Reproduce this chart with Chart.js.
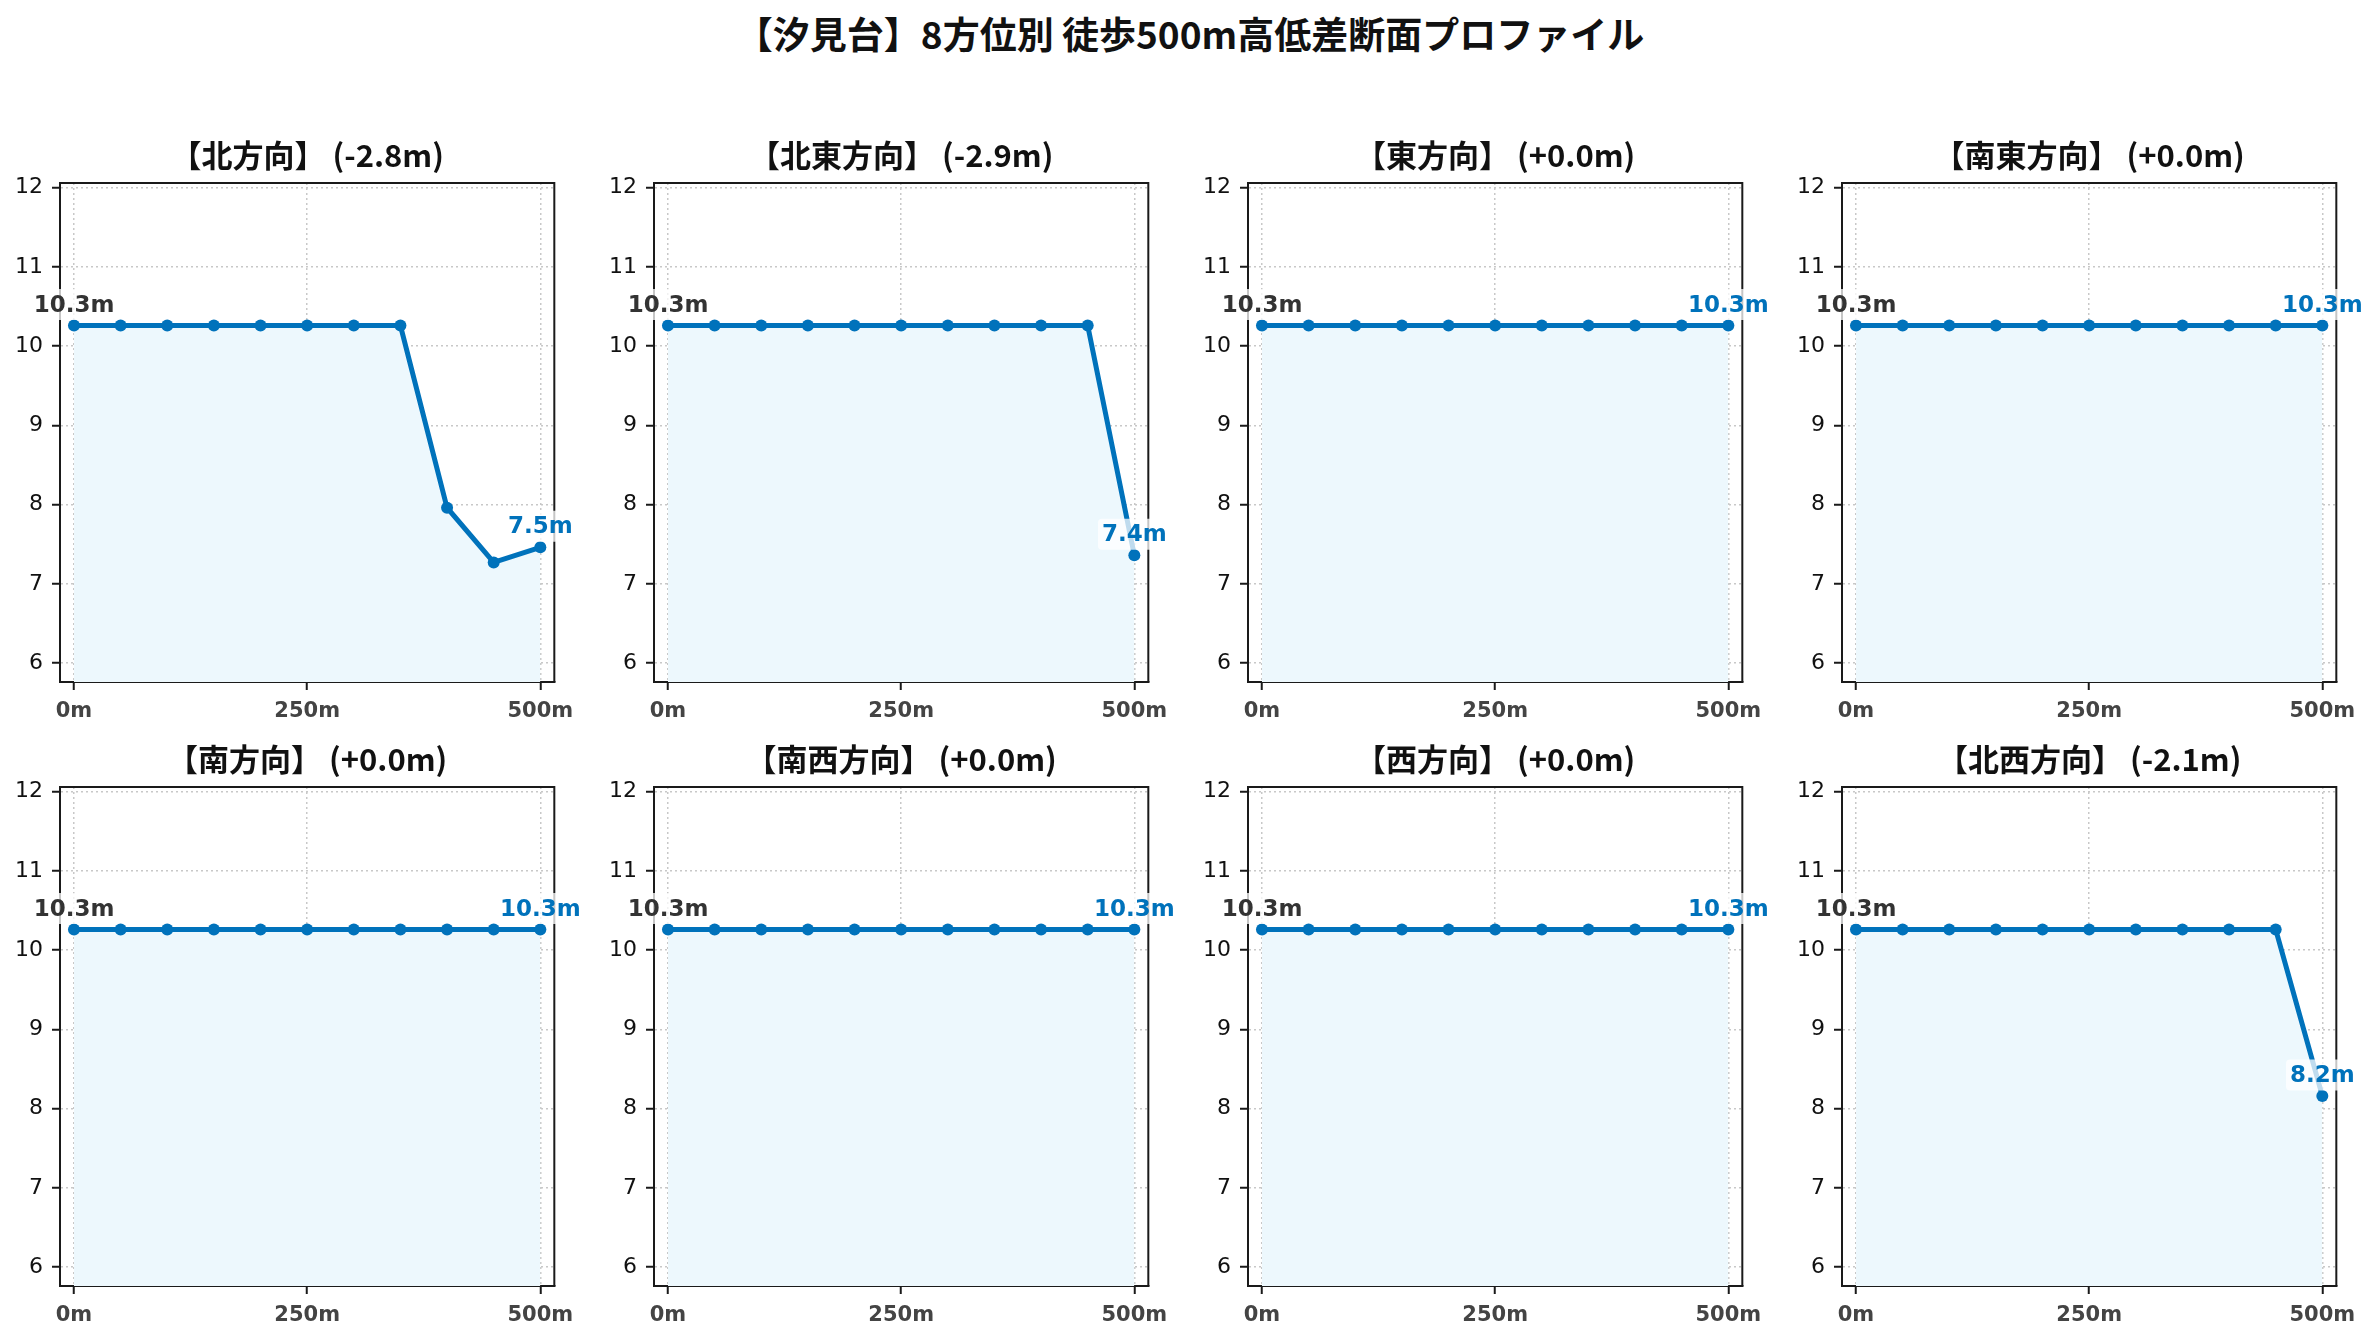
<!DOCTYPE html>
<html>
<head>
<meta charset="utf-8">
<script src="https://cdn.jsdelivr.net/npm/chart.js@4.4.1/dist/chart.umd.min.js"></script>
<style>
  body { margin: 0; background: #fff; width: 2380px; height: 1340px; overflow: hidden; position: relative; }
  #main-title {
    position: absolute; left: 0; top: 10px; width: 2380px;
    text-align: center; font: bold 37px "Noto Sans CJK JP", "DejaVu Sans", sans-serif;
    line-height: 46px; color: #111;
  }
  canvas { position: absolute; }
</style>
</head>
<body>
<div id="main-title">【汐見台】8方位別 徒歩500m高低差断面プロファイル</div>

<script>
// data
const directions = ['北方向', '北東方向', '東方向', '南東方向', '南方向', '南西方向', '西方向', '北西方向'];
const distances  = [0, 50, 100, 150, 200, 250, 300, 350, 400, 450, 500];
const xTicks     = [0, 250, 500];
const yTicks     = [6, 7, 8, 9, 10, 11, 12];

const elevNorth     = [10.26, 10.26, 10.26, 10.26, 10.26, 10.26, 10.26, 10.26, 7.96, 7.27, 7.46];
const elevNorthEast = [10.26, 10.26, 10.26, 10.26, 10.26, 10.26, 10.26, 10.26, 10.26, 10.26, 7.36];
const elevEast      = [10.26, 10.26, 10.26, 10.26, 10.26, 10.26, 10.26, 10.26, 10.26, 10.26, 10.26];
const elevSouthEast = [10.26, 10.26, 10.26, 10.26, 10.26, 10.26, 10.26, 10.26, 10.26, 10.26, 10.26];
const elevSouth     = [10.26, 10.26, 10.26, 10.26, 10.26, 10.26, 10.26, 10.26, 10.26, 10.26, 10.26];
const elevSouthWest = [10.26, 10.26, 10.26, 10.26, 10.26, 10.26, 10.26, 10.26, 10.26, 10.26, 10.26];
const elevWest      = [10.26, 10.26, 10.26, 10.26, 10.26, 10.26, 10.26, 10.26, 10.26, 10.26, 10.26];
const elevNorthWest = [10.26, 10.26, 10.26, 10.26, 10.26, 10.26, 10.26, 10.26, 10.26, 10.26, 8.16];

const series = [elevNorth, elevNorthEast, elevEast, elevSouthEast,
                elevSouth, elevSouthWest, elevWest, elevNorthWest];

// axis limits
const X_MIN = -15, X_MAX = 515;
const Y_MIN = 5.76, Y_MAX = 12.06;

// layout (px)
const PLOT_LEFT = [60, 654, 1248, 1842];
const PLOT_TOP  = [183, 787];
const PLOT_W = 497, PLOT_H = 499;
const AXIS_W = 58, AXIS_H = 46, TITLE_SPACE = 62, RIGHT_PAD = 26;

const LINE_COLOR = '#0072BB';
const FILL_COLOR = '#EDF8FD';
const FONT = '"DejaVu Sans", "Noto Sans CJK JP", sans-serif';
const TITLE_FONT = '"Noto Sans CJK JP", "DejaVu Sans", sans-serif';

// top + right border of the plot box
const framePlugin = {
  id: 'frame',
  beforeDatasetsDraw(chart) {
    const { ctx, chartArea: a } = chart;
    ctx.save();
    ctx.strokeStyle = '#1a1a1a';
    ctx.lineWidth = 2;
    ctx.beginPath();
    ctx.moveTo(a.left, a.top);
    ctx.lineTo(a.right, a.top);
    ctx.lineTo(a.right, a.bottom);
    ctx.stroke();
    ctx.restore();
  }
};

// start / end value labels
function drawTag(ctx, text, x, y, color) {
  ctx.font = 'bold 23px ' + FONT;
  const w = ctx.measureText(text).width;
  const h = 27;
  ctx.fillStyle = 'rgba(255,255,255,0.75)';
  ctx.beginPath();
  ctx.roundRect(x - w / 2 - 4, y - h / 2 - 2, w + 8, h + 4, 4);
  ctx.fill();
  ctx.fillStyle = color;
  ctx.textAlign = 'center';
  ctx.textBaseline = 'middle';
  ctx.fillText(text, x, y + 1);
}

const tagPlugin = {
  id: 'tags',
  afterDatasetsDraw(chart) {
    const { ctx, scales: { x, y } } = chart;
    const data = chart.data.datasets[0].data;
    const first = data[0], last = data[data.length - 1];
    ctx.save();
    drawTag(ctx, first.y.toFixed(1) + 'm', x.getPixelForValue(first.x), y.getPixelForValue(first.y) - 21, '#333333');
    drawTag(ctx, last.y.toFixed(1) + 'm', x.getPixelForValue(last.x), y.getPixelForValue(last.y) - 21, LINE_COLOR);
    ctx.restore();
  }
};

function makeTitle(name, values) {
  const d = values[values.length - 1] - values[0];
  const s = (d >= 0 ? '+' : '') + d.toFixed(1);
  return `【${name}】 (${s}m)`;
}

series.forEach((values, i) => {
  const col = i % 4, row = Math.floor(i / 4);
  const cv = document.createElement('canvas');
  const w = AXIS_W + PLOT_W + RIGHT_PAD;
  const h = TITLE_SPACE + PLOT_H + AXIS_H;
  cv.width = w; cv.height = h;
  Object.assign(cv.style, {
    left: (PLOT_LEFT[col] - AXIS_W) + 'px',
    top: (PLOT_TOP[row] - TITLE_SPACE) + 'px',
    width: w + 'px',
    height: h + 'px'
  });
  document.body.appendChild(cv);

  const titleSize = 31;
  const titleBottom = 9;
  const titleBox = titleSize * 1.2 + titleBottom;

  new Chart(cv.getContext('2d'), {
    type: 'line',
    data: {
      datasets: [{
        data: distances.map((d, k) => ({ x: d, y: values[k] })),
        borderColor: LINE_COLOR,
        borderWidth: 5,
        pointRadius: 6,
        pointBackgroundColor: LINE_COLOR,
        pointBorderWidth: 0,
        fill: 'start',
        backgroundColor: FILL_COLOR,
        tension: 0
      }]
    },
    options: {
      responsive: false,
      devicePixelRatio: 1,
      animation: false,
      layout: { padding: { top: TITLE_SPACE - titleBox, right: RIGHT_PAD, bottom: 0, left: 0 } },
      plugins: {
        legend: { display: false },
        tooltip: { enabled: false },
        title: {
          display: true,
          fullSize: false,
          text: makeTitle(directions[i], values),
          color: '#111',
          font: { family: TITLE_FONT, size: titleSize, weight: 'bold' },
          padding: { top: 0, bottom: titleBottom }
        }
      },
      scales: {
        x: {
          type: 'linear',
          min: X_MIN, max: X_MAX,
          afterBuildTicks: (s) => { s.ticks = xTicks.map((v) => ({ value: v })); },
          afterFit: (s) => { s.height = AXIS_H; },
          ticks: {
            color: '#444',
            padding: 9,
            maxRotation: 0,
            font: { family: FONT, size: 21, weight: 'bold' },
            callback: (v) => v + 'm'
          },
          grid: {
            color: '#c8c8c8', lineWidth: 1.5,
            tickLength: 8, tickColor: '#1a1a1a', tickWidth: 2, tickBorderDash: []
          },
          border: { display: true, color: '#1a1a1a', width: 2, dash: [2, 3] }
        },
        y: {
          min: Y_MIN, max: Y_MAX,
          afterBuildTicks: (s) => { s.ticks = yTicks.map((v) => ({ value: v })); },
          afterFit: (s) => { s.width = AXIS_W; },
          ticks: {
            color: '#111',
            padding: 9,
            font: { family: FONT, size: 22 }
          },
          grid: {
            color: '#c8c8c8', lineWidth: 1.5,
            tickLength: 8, tickColor: '#1a1a1a', tickWidth: 2, tickBorderDash: []
          },
          border: { display: true, color: '#1a1a1a', width: 2, dash: [2, 3] }
        }
      }
    },
    plugins: [framePlugin, tagPlugin]
  });
});
</script>
</body>
</html>
